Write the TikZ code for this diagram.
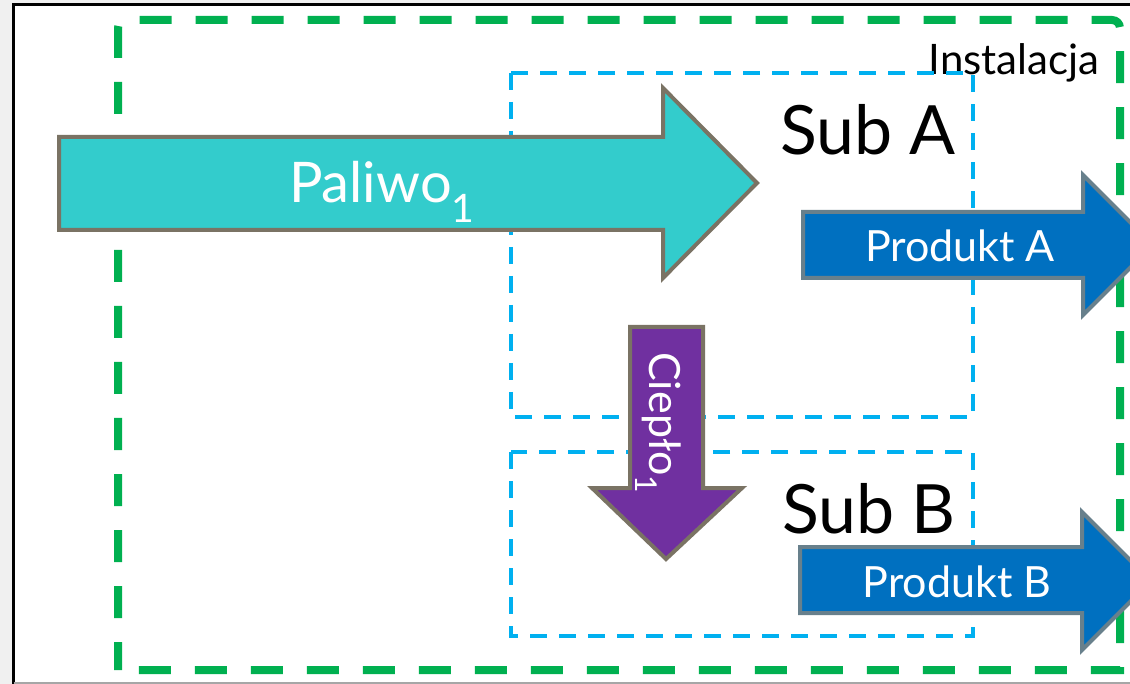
\documentclass[tikz,border=0pt]{standalone}
\usepackage{fontspec}
\setmainfont{Lato}
\definecolor{instgreen}{HTML}{00B050}
\definecolor{subblue}{HTML}{00B0F0}
\definecolor{fuelcyan}{HTML}{33CCCC}
\definecolor{prodblue}{HTML}{0070C0}
\definecolor{heatpurple}{HTML}{7030A0}
\definecolor{edgebrown}{HTML}{7A7364}
\definecolor{edgeslate}{HTML}{68808C}
\definecolor{pagegray}{HTML}{F0F0F0}
\tikzset{
  instbox/.style={draw=instgreen, line width=8pt, dash pattern=on 32pt off 24pt, dash phase=4pt},
  subbox/.style={draw=subblue, line width=3.5pt, dash pattern=on 17pt off 12pt},
  fuelarrow/.style={fill=fuelcyan, draw=edgebrown, line width=4pt, line join=miter},
  prodarrow/.style={fill=prodblue, draw=edgeslate, line width=4pt, line join=miter},
  heatarrow/.style={fill=heatpurple, draw=edgebrown, line width=4pt, line join=miter},
  biglabel/.style={text=black, font=\fontsize{68}{80}\selectfont, anchor=base, inner sep=0pt},
  instlabel/.style={text=black, font=\fontsize{42}{50}\selectfont, anchor=base, inner sep=0pt},
  arrowlabel/.style={text=white, font=\fontsize{43}{50}\selectfont, anchor=base, inner sep=0pt},
}
\begin{document}
\begin{tikzpicture}[x=1pt, y=-1pt]
  \useasboundingbox (0,0) rectangle (1130,684);
  \clip (0,0) rectangle (1130,684);
  % window background and frame
  \fill[pagegray] (0,0) rectangle (1130,684);
  \fill[white] (13.5,4.5) rectangle (1135,683);
  \draw[black, line width=2.5pt] (13.5,690) -- (13.5,4.5) -- (1140,4.5);
  \draw[black!35, line width=1.5pt] (13.5,683) -- (1140,683);

  % installation boundary (rounded at the top only)
  \draw[instbox] (118,670) -- (118,28) arc[start angle=180, end angle=270, radius=8]
    -- (1112,20) arc[start angle=270, end angle=360, radius=8] -- (1120,670) -- cycle;
  \node[instlabel] (inst) at (1014,75) {Instalacja};

  % sub-installations
  \draw[subbox] (511,73) rectangle (973,417);
  \draw[subbox] (511,452) rectangle (973,636);
  \node[biglabel] (subA) at (868,155) {Sub A};
  \node[biglabel] (subB) at (869,533) {Sub B};

  % fuel input
  \draw[fuelarrow] (59,137) -- (663,137) -- (663,88) -- (757,183)
    -- (663,278) -- (663,230) -- (59,230) -- cycle;
  \node[arrowlabel, font=\fontsize{56}{64}\selectfont] (fuel) at (382,203) {Paliwo\textsubscript{1}};

  % product outputs
  \draw[prodarrow] (803,212) -- (1083,212) -- (1083,175) -- (1153,245)
    -- (1083,315) -- (1083,278) -- (803,278) -- cycle;
  \node[arrowlabel] (prodA) at (960,262) {Produkt A};
  \draw[prodarrow] (800,547) -- (1082,547) -- (1082,512) -- (1151,581)
    -- (1082,650) -- (1082,613) -- (800,613) -- cycle;
  \node[arrowlabel] (prodB) at (957,597) {Produkt B};

  % heat transfer from A to B
  \draw[heatarrow] (630,327) -- (703,327) -- (703,488) -- (742,488)
    -- (666,559) -- (592,488) -- (630,488) -- cycle;
  \node[arrowlabel, rotate=-90] (heat) at (649,423) {Ciepło\textsubscript{1}};
\end{tikzpicture}
\end{document}
